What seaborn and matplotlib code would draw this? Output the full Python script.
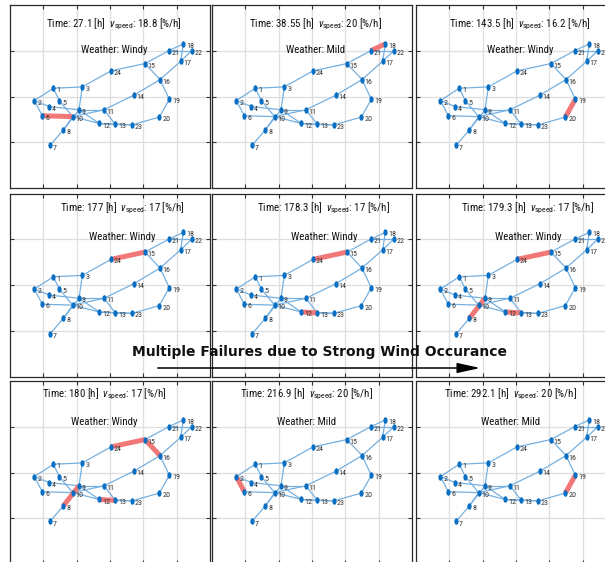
import matplotlib
matplotlib.use("Agg")
import matplotlib.pyplot as plt
from matplotlib import font_manager
from matplotlib.path import Path
from matplotlib.transforms import Affine2D
from matplotlib.patches import FancyArrowPatch, ArrowStyle
import seaborn as sns

# bus coordinates (grid units)
bus_x = [1.30, 0.73, 2.17, 1.18, 1.48, 0.97, 1.20, 1.60, 2.07, 1.88, 2.82, 2.68,
         3.16, 3.72, 4.05, 4.50, 5.12, 5.20, 4.78, 4.48, 4.76, 5.45, 3.66, 3.03]
bus_y = [2.18, 1.91, 2.21, 1.78, 1.91, 1.58, 0.93, 1.27, 1.71, 1.56, 1.71, 1.41,
         1.39, 2.03, 2.72, 2.37, 2.77, 3.15, 1.94, 1.55, 3.00, 3.00, 1.38, 2.56]

# lines of the 24 bus system (from bus, to bus)
lines = [(1, 2), (1, 3), (1, 5), (2, 4), (2, 6), (3, 9), (3, 24), (4, 9), (5, 10),
         (6, 10), (7, 8), (8, 9), (8, 10), (9, 11), (9, 12), (10, 11), (10, 12),
         (11, 13), (11, 14), (12, 13), (12, 23), (13, 23), (14, 16), (15, 16),
         (15, 21), (15, 24), (16, 17), (16, 19), (17, 18), (17, 22), (18, 21),
         (19, 20), (20, 23), (21, 22)]

times = ["27.1", "38.55", "143.5", "177", "178.3", "179.3", "180", "216.9", "292.1"]
speeds = ["18.8", "20", "16.2", "17", "17", "17", "17", "20", "20"]
weather = ["Windy", "Mild", "Windy", "Windy", "Windy", "Windy", "Windy", "Mild", "Mild"]
failed = [
    [(6, 10)],
    [(18, 21)],
    [(19, 20)],
    [(15, 24)],
    [(15, 24), (12, 13)],
    [(15, 24), (12, 13), (8, 9)],
    [(15, 24), (15, 16), (12, 13), (8, 9)],
    [(2, 6)],
    [(19, 20)],
]

sns.set_style("whitegrid")

# pick the narrowest sans family that is installed
installed = {f.name for f in font_manager.fontManager.ttflist}
narrow = 'DejaVu Sans'
for name in ['Roboto Condensed', 'Liberation Sans Narrow', 'Arial Narrow', 'Liberation Sans']:
    if name in installed:
        narrow = name
        break
plt.rcParams['font.family'] = [narrow, 'DejaVu Sans']
plt.rcParams['mathtext.fontset'] = 'custom'
plt.rcParams['mathtext.rm'] = narrow
plt.rcParams['mathtext.it'] = narrow + ':italic'
plt.rcParams['mathtext.bf'] = narrow + ':bold'

node_col = '#0a6fc2'
line_col = '#76b0e0'
fail_col = '#f27878'

# tall dot like the original marker
dot = Path.unit_circle().transformed(Affine2D().scale(0.65, 1.0))

fig = plt.figure(figsize=(6.05, 5.62), dpi=100)
col_left = [10, 212, 416]
row_top = [5, 193.5, 381]
W, H = 200, 183
# title placement differs a little per row
row_dx = [0.02, 0.06, -0.027]
row_y1 = [0.881, 0.906, 0.914]
row_y2 = [0.736, 0.746, 0.76]

for k in range(9):
    r, c = divmod(k, 3)
    ax = fig.add_axes([col_left[c] / 605, 1 - (row_top[r] + H) / 562, W / 605, H / 562])

    for a, b in lines:
        ax.plot([bus_x[a - 1], bus_x[b - 1]], [bus_y[a - 1], bus_y[b - 1]],
                color=line_col, lw=0.9, zorder=2)
    for a, b in failed[k]:
        ax.plot([bus_x[a - 1], bus_x[b - 1]], [bus_y[a - 1], bus_y[b - 1]],
                color=fail_col, lw=3.6, zorder=2.5, solid_capstyle='butt')

    sns.scatterplot(x=bus_x, y=bus_y, marker=dot, s=22, color=node_col,
                    linewidth=0, ax=ax, zorder=3)
    for i in range(24):
        ax.annotate(str(i + 1), (bus_x[i], bus_y[i]), xytext=(2.0, -1.5),
                    textcoords='offset points', fontsize=5.8, ha='left',
                    va='center', color='#333333', zorder=4)

    ax.text(0.5 + row_dx[r], row_y1[r],
            "Time: " + times[k] + r" [h]  $\nu_{\mathrm{speed}}$: " + speeds[k] + " [%/h]",
            transform=ax.transAxes, ha='center', va='baseline', fontsize=7.8,
            color='#111111', zorder=5)
    ax.text(0.5 + row_dx[r], row_y2[r], "Weather: " + weather[k],
            transform=ax.transAxes, ha='center', va='baseline', fontsize=7.8,
            color='#111111', zorder=5)

    ax.set_xlim(0, 6)
    ax.set_ylim(0, 4)
    ax.set_xticks([1, 2, 3, 4, 5])
    ax.set_yticks([1, 2, 3])
    ax.set_xticklabels([])
    ax.set_yticklabels([])
    ax.tick_params(direction='in', length=3, width=0.8, color='#333333',
                   top=True, right=True, bottom=True, left=True)
    ax.grid(True, color='#dedede', lw=0.9)
    for s in ax.spines.values():
        s.set_color('#2a2a2a')
        s.set_linewidth(0.9)

fig.text(320 / 605, 1 - 356 / 562, "Multiple Failures due to Strong Wind Occurance",
         ha='center', va='baseline', fontsize=10, fontweight='bold',
         family=['DejaVu Sans'], color='#111111')
arrow = FancyArrowPatch((155 / 605, 1 - 368 / 562), (483 / 605, 1 - 368 / 562),
                        transform=fig.transFigure,
                        arrowstyle=ArrowStyle('-|>', head_length=1.0, head_width=0.22),
                        mutation_scale=14, lw=1.1, color='black')
fig.add_artist(arrow)

fig.savefig("out.png", dpi=100)
